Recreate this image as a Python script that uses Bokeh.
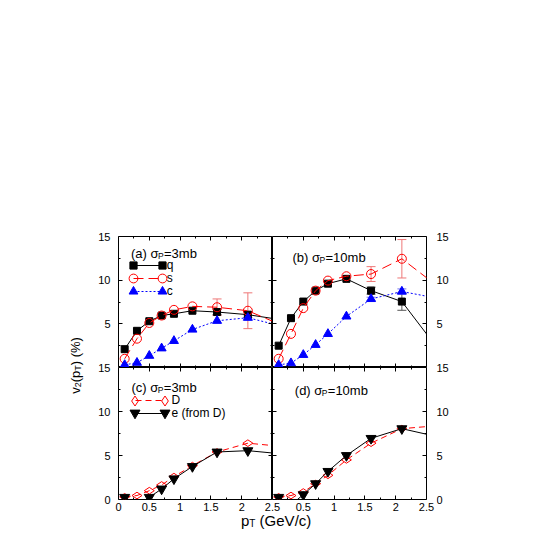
import math
from bokeh.plotting import figure
from bokeh.models import (Range1d, LinearAxis, SingleIntervalTicker, FixedTicker, Whisker, TeeHead,
                          ColumnDataSource, Legend, LegendItem, Label, CustomJSTickFormatter)
from bokeh.layouts import row, column
from bokeh.embed import file_html
from bokeh.resources import INLINE

FONT = "Liberation Sans"

# ---------------- data ----------------
pt = [0.1, 0.3, 0.5, 0.7, 0.9, 1.2, 1.6, 2.1, 2.7]

a_q = [2.1, 4.2, 5.3, 5.95, 6.15, 6.5, 6.35, 6.05, 5.4]
a_s = [1.0, 3.3, 5.1, 5.95, 6.6, 7.0, 6.9, 6.5, 4.7]
a_c = [0.3, 0.55, 1.35, 2.2, 3.05, 4.35, 5.35, 5.7, 4.65]

b_q = [2.5, 5.65, 7.55, 8.8, 9.6, 10.15, 8.8, 7.55, 2.0]
b_s = [1.0, 3.85, 6.8, 8.8, 9.95, 10.45, 10.7, 12.45, 9.2]
b_c = [0.3, 0.5, 1.45, 2.6, 3.85, 5.85, 7.85, 8.7, 7.9]

c_D = [0.3, 0.45, 1.0, 1.65, 2.6, 3.85, 5.4, 6.4, 6.0]
c_e = [0.25, -0.6, 0.25, 1.2, 2.35, 3.75, 5.4, 5.55, 5.15]

d_D = [0.3, 0.45, 0.85, 1.8, 2.75, 4.5, 6.4, 8.05, 8.4]
d_e = [0.25, -0.6, 0.55, 1.8, 3.2, 5.0, 6.95, 8.05, 7.1]

err_pt = [1.6, 2.1]
a_q_err = [0.3, 0.35]
a_s_err = [0.95, 2.05]
b_q_err = [0.4, 1.0]
b_s_err = [0.85, 2.2]
b_c_err = [0.2, 0.3]

y_tick_vals = [0, 5, 10, 15]
y_tick_labels = ["0", "5", "10", "15"]
x_tick_vals = [0.0, 0.5, 1.0, 1.5, 2.0, 2.5]
x_tick_labels = ["0", "0.5", "1", "1.5", "2", "2.5"]

RED = "#ff0000"
BLUE = "#0000ff"
BLACK = "#000000"

TOP_BORDER = 236
PX_PER_X = 154 / 2.5
PX_PER_Y = 263 / 30


def base_fig(**kw):
    return figure(x_axis_type=None, y_axis_type=None, title=None, tools="", toolbar_location=None,
                  output_backend="svg", **kw)


def make_panel(frame_h, top, lb, rb, bb):
    p = base_fig(frame_width=154, frame_height=frame_h, x_range=Range1d(0, 2.5), y_range=Range1d(0, 15),
                 min_border_left=lb, min_border_right=rb,
                 min_border_top=TOP_BORDER if top else 0, min_border_bottom=bb,
                 outline_line_color="black", outline_line_width=1)
    for side, loc, interval in (("below", 0, 0.5), ("above", 15, 0.5), ("left", 0, 5), ("right", 2.5, 5)):
        ax = LinearAxis(ticker=SingleIntervalTicker(interval=interval, num_minor_ticks=2),
                        formatter=CustomJSTickFormatter(code="return ''"),
                        fixed_location=loc, axis_line_color=None,
                        major_tick_in=4, major_tick_out=0, minor_tick_in=2, minor_tick_out=0,
                        major_tick_line_color="black", minor_tick_line_color="black",
                        major_label_text_font_size="0px")
        p.add_layout(ax, side)
    return p


def series(p, y, color, dash, marker, size, filled, angle=0.0):
    src = ColumnDataSource(dict(x=pt, y=y))
    lr = p.line("x", "y", source=src, line_color=color, line_width=1, line_dash=dash)
    mr = p.scatter("x", "y", source=src, marker=marker, size=size, line_color=color, angle=angle,
                   fill_color=color if filled else None, line_width=1)
    return lr, mr, size


def errors(p, y, err, color):
    base = [y[pt.index(x)] for x in err_pt]
    src = ColumnDataSource(dict(x=err_pt, lo=[b - e for b, e in zip(base, err)],
                                hi=[b + e for b, e in zip(base, err)]))
    w = Whisker(base="x", lower="lo", upper="hi", source=src, line_color=color, line_width=1,
                upper_head=TeeHead(size=9, line_color=color, line_width=1),
                lower_head=TeeHead(size=9, line_color=color, line_width=1))
    p.add_layout(w)


def title(p, sx, sy, prefix, suffix, pre_w):
    common = dict(x_units="screen", y_units="screen", text_font=FONT, text_baseline="alphabetic",
                  text_align="left", text_color="black")
    p.add_layout(Label(x=sx, y=sy, text=prefix, text_font_size="13px", **common))
    p.add_layout(Label(x=sx + pre_w, y=sy - 2.5, text="P", text_font_size="8.5px", **common))
    p.add_layout(Label(x=sx + pre_w + 6, y=sy, text=suffix, text_font_size="13px", **common))


def legend_rows(p, frame_left, frame_bottom, rows, x0, x1, standoff):
    common = dict(padding=0, margin=0, spacing=0, border_line_color=None, background_fill_alpha=0,
                  label_text_font=FONT, label_text_font_size="12px", label_text_color="black")
    gw = int(round(x1 - x0))
    for name, (lr, mr, size), yc in rows:
        lg = Legend(items=[LegendItem(label=name, renderers=[lr])],
                    location=(x0 - frame_left, frame_bottom - (yc + 7)),
                    glyph_width=gw, glyph_height=14, label_height=14, label_standoff=standoff,
                    **common)
        p.add_layout(lg)
        g = int(round(size / 0.4))
        for cx in (x0, x0 + gw):
            lm = Legend(items=[LegendItem(label="", renderers=[mr])],
                        location=(cx - frame_left - g / 2, frame_bottom - (yc + g / 2)),
                        glyph_width=g, glyph_height=g, label_width=0, label_height=0, label_standoff=0,
                        **common)
            p.add_layout(lm)


# ---------------- panels ----------------
pa = make_panel(131, True, 5, 0, 0)
pb = make_panel(131, True, 0, 10, 0)
pc = make_panel(132, False, 5, 0, 1)
pd = make_panel(132, False, 0, 10, 1)

errors(pa, a_q, a_q_err, "#555555")
errors(pa, a_s, a_s_err, "#ee7777")
qa = series(pa, a_q, BLACK, "solid", "square", 7, True)
sa = series(pa, a_s, RED, "10 5", "circle", 9, False)
ca = series(pa, a_c, BLUE, "2 2", "triangle", 9, True)

errors(pb, b_q, b_q_err, "#555555")
errors(pb, b_s, b_s_err, "#ee7777")
errors(pb, b_c, b_c_err, "#7777ee")
series(pb, b_q, BLACK, "solid", "square", 7, True)
series(pb, b_s, RED, "10 5", "circle", 9, False)
series(pb, b_c, BLUE, "2 2", "triangle", 9, True)

Dc = series(pc, c_D, RED, "6 4", "diamond", 10, False, math.pi / 2)
ec = series(pc, c_e, BLACK, "solid", "inverted_triangle", 10, True)

series(pd, d_D, RED, "6 4", "diamond", 10, False, math.pi / 2)
series(pd, d_e, BLACK, "solid", "inverted_triangle", 10, True)

title(pa, 12.5, 114, "(a) σ", "=3mb", 27.0)
title(pb, 20, 110.5, "(b) σ", "=10mb", 27.0)
title(pc, 13, 112.3, "(c) σ", "=3mb", 26.3)
title(pd, 22.3, 109, "(d) σ", "=10mb", 27.0)

legend_rows(pa, 118, 367, [("q", qa, 265), ("s", sa, 278), ("c", ca, 291)], 132.7, 161.3, 5)
legend_rows(pc, 118, 499, [("D", Dc, 400), ("e (from D)", ec, 412.5)], 134.5, 165, 7)

# ---------------- outer tick labels / axis titles ----------------
y_over = {}
for v, t in zip(y_tick_vals, y_tick_labels):
    y_over[v] = t
for v, t in zip(y_tick_vals[1:], y_tick_labels[1:]):
    y_over[15 + v] = t
x_over = {}
for v, t in zip(x_tick_vals, x_tick_labels):
    x_over[v] = t
for v, t in zip(x_tick_vals[1:], x_tick_labels[1:]):
    x_over[2.5 + v] = t

lab_common = dict(axis_line_color=None, major_tick_in=0, major_tick_out=0, minor_tick_in=0,
                  minor_tick_out=0, major_label_text_font=FONT, major_label_text_font_size="11px",
                  major_label_text_color="black")

H = 530
y_full = Range1d((499 - H) / PX_PER_Y, 499 / PX_PER_Y)

# left strip (x 0..113): y tick labels + y title
lf = base_fig(frame_width=113, frame_height=H, x_range=Range1d(0, 113), y_range=y_full,
              min_border_left=0, min_border_right=0, min_border_top=0, min_border_bottom=0,
              outline_line_color=None)
lf.extra_y_ranges = {"px": Range1d(H, 0)}
lf.add_layout(LinearAxis(ticker=FixedTicker(ticks=sorted(y_over)), major_label_overrides=y_over,
                         fixed_location=113, major_label_standoff=3, **lab_common), "left")

# right strip (x 436..470): right tick labels
rf = base_fig(frame_width=34, frame_height=H, x_range=Range1d(436, 470),
              y_range=Range1d((499 - H) / PX_PER_Y, 499 / PX_PER_Y),
              min_border_left=0, min_border_right=0, min_border_top=0, min_border_bottom=0,
              outline_line_color=None)
rf.add_layout(LinearAxis(ticker=FixedTicker(ticks=sorted(y_over)), major_label_overrides=y_over,
                         fixed_location=436, major_label_standoff=0, **lab_common), "right")

# bottom strip (x 113..436, y 500..530): x tick labels + x title
bf = base_fig(frame_width=323, frame_height=30,
              x_range=Range1d((113 - 118) / PX_PER_X, (436 - 118) / PX_PER_X),
              y_range=Range1d(530, 500), min_border_left=0, min_border_right=0, min_border_top=0,
              min_border_bottom=0, outline_line_color=None)
bf.extra_x_ranges = {"px": Range1d(113, 436)}
bf.add_layout(LinearAxis(ticker=FixedTicker(ticks=sorted(x_over)), major_label_overrides=x_over,
                         fixed_location=500, major_label_standoff=2, **lab_common), "below")

# y-axis title (rotated, composed with subscripts)
YL_FS = 13
yl_pieces = [("v", YL_FS, False, 6.5), ("2", 9, True, 5.0), ("(p", YL_FS, False, 11.56),
             ("T", 9, True, 5.5), (") (%)", YL_FS, False, 28.16)]
total = sum(w for _, _, _, w in yl_pieces)
start = 365 + total / 2
off = 0.0
for txt, fs, sub, w in yl_pieces:
    lf.add_layout(Label(x=75 + (2.5 if sub else 0), y=start - off, y_range_name="px",
                        text=txt, text_font=FONT, text_font_size=f"{fs}px", angle=math.pi / 2,
                        text_align="left", text_baseline="alphabetic", text_color="black"))
    off += w

# x-axis title
XL_FS = 15
xl_pieces = [("p", XL_FS, False, 8.34), ("T", 10, True, 6.11 + 4.17), ("(GeV/c)", XL_FS, False, 51.7)]
xs = 240.5
for txt, fs, sub, w in xl_pieces:
    bf.add_layout(Label(x=xs, y=520 + (3 if sub else 0), x_range_name="px",
                        text=txt, text_font=FONT, text_font_size=f"{fs}px",
                        text_align="left", text_baseline="alphabetic", text_color="black"))
    xs += w

layout = row(lf, column(row(pa, pb), row(pc, pd), bf), rf)
open("out.html", "w").write(file_html(layout, INLINE))
